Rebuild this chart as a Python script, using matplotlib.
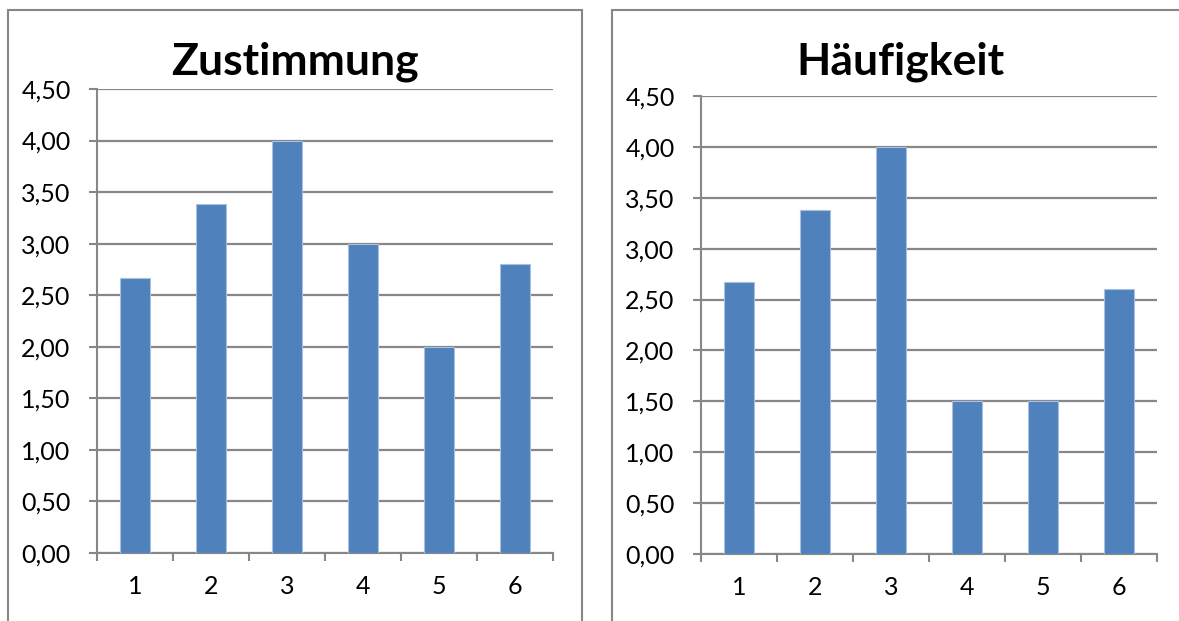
import matplotlib
matplotlib.use("Agg")
import matplotlib.pyplot as plt
from matplotlib.patches import Rectangle

categories = ["1", "2", "3", "4", "5", "6"]
zustimmung = [2.67, 3.38, 4.00, 3.00, 2.00, 2.80]
haeufigkeit = [2.67, 3.38, 4.00, 1.50, 1.50, 2.60]
yticks = [0.0, 0.5, 1.0, 1.5, 2.0, 2.5, 3.0, 3.5, 4.0, 4.5]
ytick_labels = ["0,00", "0,50", "1,00", "1,50", "2,00", "2,50", "3,00", "3,50", "4,00", "4,50"]

plt.rcParams['font.family'] = ['Lato', 'DejaVu Sans']

W, H = 1179, 621
fig = plt.figure(figsize=(W / 100, H / 100), dpi=100)

grey = '#878787'
bar_color = '#4F81BD'

def px(x0, y0, x1, y1):
    return [x0 / W, 1 - y1 / H, (x1 - x0) / W, (y1 - y0) / H]

# frames
fig.patches.append(Rectangle((8 / W, 1 - 640 / H), (582 - 8) / W, (640 - 10) / H,
                             transform=fig.transFigure, fill=False, edgecolor=grey, lw=1.5))
fig.patches.append(Rectangle((612 / W, 1 - 640 / H), (1190 - 612) / W, (640 - 10) / H,
                             transform=fig.transFigure, fill=False, edgecolor=grey, lw=1.5))

def draw(rect, values, title, title_x):
    ax = fig.add_axes(rect)
    x = list(range(1, len(values) + 1))
    ax.bar(x, values, width=0.4, color=bar_color, edgecolor='#A9C1E0', linewidth=0.8, zorder=3)
    ax.set_xlim(0.5, len(values) + 0.5)
    ax.set_ylim(0, 4.5)
    ax.set_yticks(yticks)
    ax.set_yticklabels(ytick_labels)
    ax.yaxis.grid(True, color=grey, lw=1.6, zorder=0)
    ax.set_axisbelow(True)
    # x ticks: marks at boundaries, labels at centres
    ax.set_xticks([i + 0.5 for i in range(0, len(values) + 1)])
    ax.set_xticklabels([])
    ax.set_xticks(x, minor=True)
    ax.set_xticklabels(categories, minor=True)
    ax.tick_params(axis='x', which='major', length=6, width=1.5, color=grey)
    ax.tick_params(axis='x', which='minor', length=0, pad=16, labelsize=18)
    ax.tick_params(axis='y', length=6, width=1.5, color=grey, pad=13, labelsize=18)
    for s in ['top', 'right']:
        ax.spines[s].set_visible(False)
    for s in ['left', 'bottom']:
        ax.spines[s].set_color(grey)
        ax.spines[s].set_linewidth(1.5)
    fig.text(title_x / W, 1 - 62 / H, title, ha='center', va='center',
             fontsize=32, fontweight='bold')
    return ax

draw(px(97, 89, 553, 553), zustimmung, "Zustimmung", 295)
draw(px(701, 96, 1157, 554), haeufigkeit, "Häufigkeit", 900)

fig.savefig("out.png", dpi=100)
